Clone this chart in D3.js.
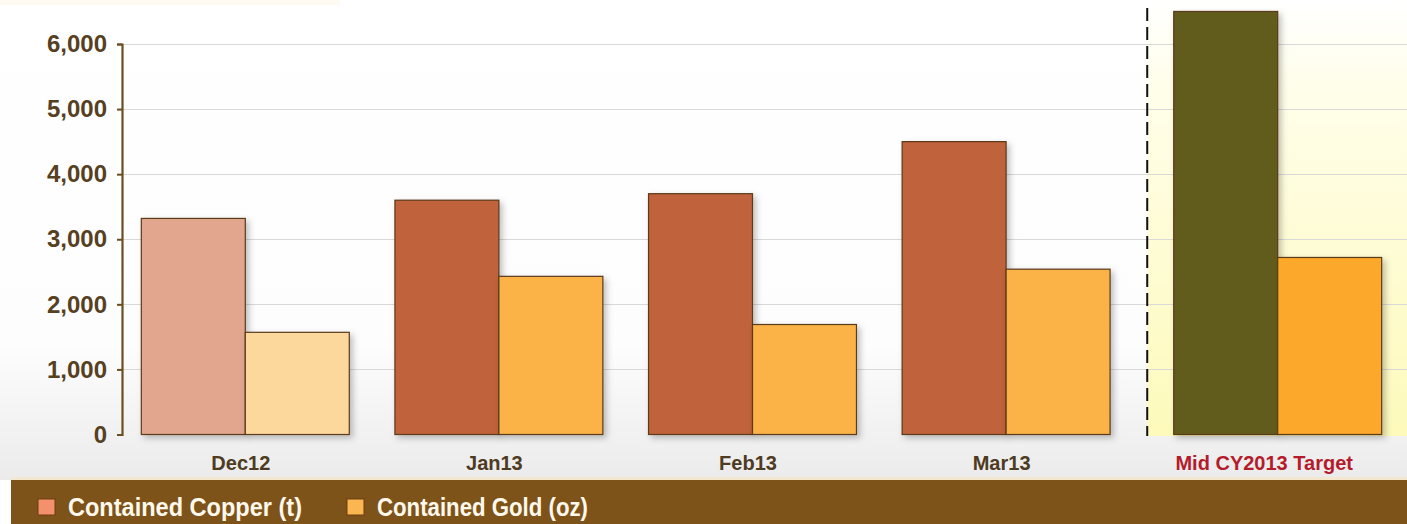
<!DOCTYPE html>
<html>
<head>
<meta charset="utf-8">
<script src="https://cdn.jsdelivr.net/npm/d3@7"></script>
<style>
  html, body { margin: 0; padding: 0; background: #fff; }
  svg { display: block; }
  .tick text { font-family: "Liberation Sans", Arial, sans-serif; font-weight: bold; }
</style>
</head>
<body>
<div id="chart"></div>
<script>
//// chart data
const categories = ['Dec12', 'Jan13', 'Feb13', 'Mar13', 'Mid CY2013 Target'];
const copper = [3320, 3600, 3700, 4500, 6500];   // Contained Copper (t)
const gold = [1570, 2430, 1690, 2540, 2720];     // Contained Gold (oz)
const yTicks = [0, 1000, 2000, 3000, 4000, 5000, 6000];
const seriesNames = ['Contained Copper (t)', 'Contained Gold (oz)'];

const W = 1407, H = 524;
const axisX = 122;

//// fills by category (first month is faded, target is highlighted)
const copperFill = ['#e2a58d', '#c0623a', '#c0623a', '#c0623a', '#625b1c'];
const goldFill = ['#fdd89d', '#fbb246', '#fbb246', '#fbb246', '#fca82a'];
const swatchFill = ['#f4906b', '#fcb651'];

const svg = d3.select('#chart').append('svg')
	.attr('width', W)
	.attr('height', H);

const defs = svg.append('defs');

const bg = defs.append('linearGradient').attr('id', 'bg')
	.attr('x1', 0).attr('y1', 0).attr('x2', 0).attr('y2', 1);
bg.append('stop').attr('offset', '0').attr('stop-color', '#ffffff');
bg.append('stop').attr('offset', '0.72').attr('stop-color', '#fdfdfd');
bg.append('stop').attr('offset', '1').attr('stop-color', '#ebebeb');

const yel = defs.append('linearGradient').attr('id', 'yel')
	.attr('x1', 0).attr('y1', 0).attr('x2', 0).attr('y2', 1);
yel.append('stop').attr('offset', '0').attr('stop-color', '#ffffff');
yel.append('stop').attr('offset', '0.2').attr('stop-color', '#fffeea');
yel.append('stop').attr('offset', '1').attr('stop-color', '#fdfabb');

const shadow = defs.append('filter').attr('id', 'shadow')
	.attr('x', '-20%').attr('y', '-10%').attr('width', '150%').attr('height', '130%');
shadow.append('feDropShadow')
	.attr('dx', 3).attr('dy', 3).attr('stdDeviation', 3)
	.attr('flood-color', '#000').attr('flood-opacity', 0.25);

//// background
svg.append('rect').attr('width', W).attr('height', 480).attr('fill', 'url(#bg)');
svg.append('rect').attr('width', 340).attr('height', 5).attr('fill', '#fefaf2');

//// scales
const y = d3.scaleLinear().domain([0, 6000]).range([434.5, 44]);

const x0 = d3.scaleBand()
	.domain(categories)
	.range([118, 1386])
	.paddingInner(0.18)
	.paddingOuter(0.09);

const x1 = d3.scaleBand()
	.domain(['copper', 'gold'])
	.range([0, x0.bandwidth()]);

const targetShift = 18;   //// target group sits a little further right
const groupX = c => x0(c) + (c === categories[categories.length - 1] ? targetShift : 0);

//// highlighted target area
const targetStart = groupX(categories[4]);
const dashX = targetStart - 26;
svg.append('rect')
	.attr('x', dashX).attr('y', 0)
	.attr('width', W - dashX).attr('height', 436)
	.attr('fill', 'url(#yel)');

//// gridlines
svg.append('g')
	.selectAll('line')
	.data(yTicks.filter(t => t > 0))
	.enter()
	.append('line')
	.attr('x1', axisX).attr('x2', W)
	.attr('y1', d => Math.round(y(d)) + 0.5)
	.attr('y2', d => Math.round(y(d)) + 0.5)
	.attr('stroke', '#d9d9d9')
	.attr('stroke-width', 1);

//// dashed divider
svg.append('line')
	.attr('x1', dashX).attr('x2', dashX)
	.attr('y1', 8).attr('y2', 436)
	.attr('stroke', '#111')
	.attr('stroke-width', 2)
	.attr('stroke-dasharray', '13,6');

//// bars
const rows = categories.map((c, i) => ({ c, i, copper: copper[i], gold: gold[i] }));

const groups = svg.append('g')
	.selectAll('g')
	.data(rows)
	.enter()
	.append('g')
	.attr('transform', d => `translate(${groupX(d.c)},0)`);

groups.selectAll('rect')
	.data(d => [
		{ key: 'copper', v: d.copper, fill: copperFill[d.i] },
		{ key: 'gold', v: d.gold, fill: goldFill[d.i] }
	])
	.enter()
	.append('rect')
	.attr('x', d => x1(d.key) + 0.5)
	.attr('y', d => y(d.v))
	.attr('width', x1.bandwidth())
	.attr('height', d => y(0) - y(d.v))
	.attr('fill', d => d.fill)
	.attr('stroke', '#5a3a1a')
	.attr('stroke-width', 1.2)
	.attr('filter', 'url(#shadow)');

//// y axis
const yAxis = d3.axisLeft(y)
	.tickValues(yTicks)
	.tickFormat(d3.format(','))
	.tickSize(5)
	.tickPadding(10);

const gy = svg.append('g')
	.attr('transform', `translate(${axisX},0)`)
	.call(yAxis);
gy.select('.domain').attr('stroke', '#6b4e22').attr('stroke-width', 2.2);
gy.selectAll('.tick line').attr('stroke', '#6b4e22').attr('stroke-width', 2);
gy.selectAll('.tick text')
	.attr('fill', '#56401f')
	.style('font-size', '24px');

//// category labels
svg.append('g')
	.selectAll('text')
	.data(categories)
	.enter()
	.append('text')
	.attr('x', (d, i) => groupX(d) + x0.bandwidth() / 2 - (i === 4 ? 13 : 4))
	.attr('y', 470)
	.attr('text-anchor', 'middle')
	.attr('font-family', '"Liberation Sans", Arial, sans-serif')
	.attr('font-weight', 'bold')
	.attr('font-size', 20)
	.attr('fill', (d, i) => i === 4 ? '#b41c2c' : '#4d3b22')
	.text(d => d);

//// legend bar
svg.append('rect').attr('x', 11).attr('y', 477).attr('width', W - 11).attr('height', 3).attr('fill', '#f3e7cf');
svg.append('rect').attr('x', 11).attr('y', 480).attr('width', W - 11).attr('height', H - 480).attr('fill', '#7e5319');

const legendX = [38, 347];
const legend = svg.append('g')
	.selectAll('g')
	.data(seriesNames)
	.enter()
	.append('g')
	.attr('transform', (d, i) => `translate(${legendX[i]},0)`);

legend.append('rect')
	.attr('x', 0).attr('y', 499)
	.attr('width', 17).attr('height', 16)
	.attr('fill', (d, i) => swatchFill[i])
	.attr('stroke', '#6b3e10')
	.attr('stroke-width', 1);

legend.append('text')
	.attr('x', 30)
	.attr('y', 516)
	.attr('font-family', '"Liberation Sans Narrow", "Arial Narrow", "Liberation Sans", Arial, sans-serif')
	.attr('font-weight', 'bold')
	.attr('font-size', 25)
	.attr('fill', '#fff8ec')
	.text(d => d);

//// squeeze legend text if no narrow face is installed
const legendWidth = [234, 211];
legend.selectAll('text').each(function(d, i) {
	const w = this.getComputedTextLength();
	if (w > legendWidth[seriesNames.indexOf(d)] + 4) {
		d3.select(this)
			.attr('textLength', legendWidth[seriesNames.indexOf(d)])
			.attr('lengthAdjust', 'spacingAndGlyphs');
	}
});
</script>
</body>
</html>
